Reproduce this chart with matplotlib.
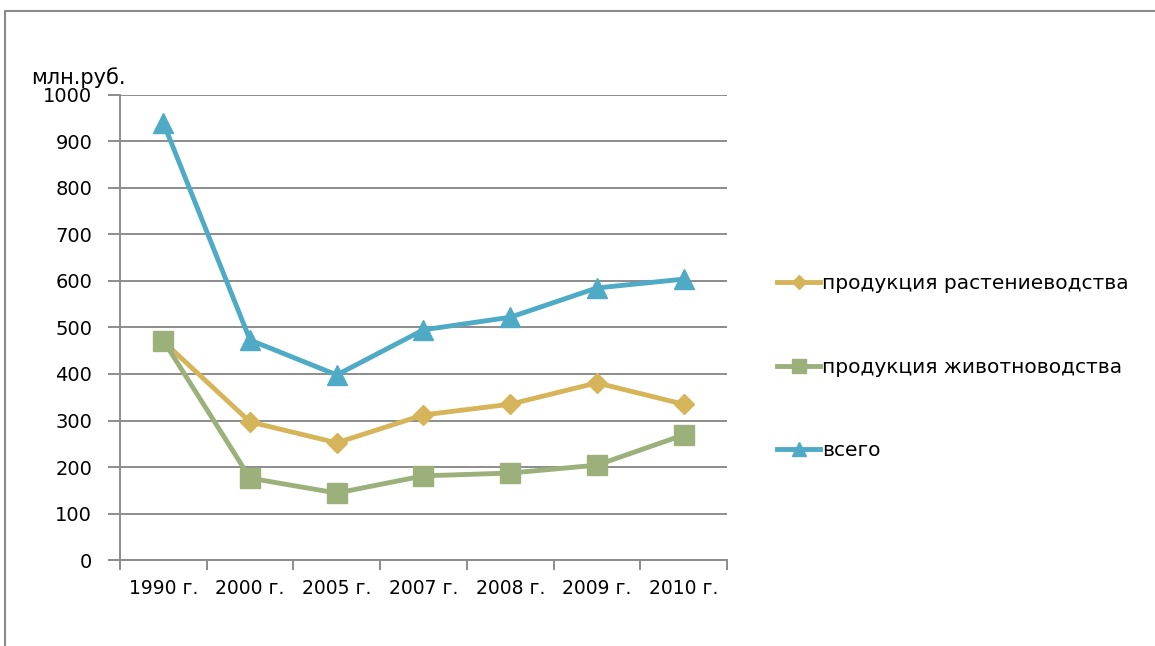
import matplotlib.pyplot as plt
from matplotlib.lines import Line2D

plt.rcParams['font.family'] = ['DejaVu Sans']

years = ['1990 г.', '2000 г.', '2005 г.', '2007 г.', '2008 г.', '2009 г.', '2010 г.']
crops = [470, 297, 252, 312, 335, 381, 335]       # продукция растениеводства
livestock = [472, 176, 144, 181, 187, 204, 269]   # продукция животноводства
total = [940, 473, 398, 495, 522, 585, 604]       # всего

fig = plt.figure(figsize=(11.55, 6.46), dpi=100)
ax = fig.add_axes([0.1039, 0.1331, 0.5255, 0.7199])

# thin frame along the top and left of the chart
frame_x = 5 / 1155
frame_y = 1 - 11 / 646
fig.lines.append(Line2D([frame_x, frame_x, 1.0], [0.0, frame_y, frame_y],
                        transform=fig.transFigure, color='#8a8a8a', lw=1.5))

x = list(range(len(years)))
ax.plot(x, crops, color='#D6B55A', lw=3.5, marker='D', ms=10,
        label='продукция растениеводства', zorder=3)
ax.plot(x, livestock, color='#9BB07A', lw=3.5, marker='s', ms=14,
        label='продукция животноводства', zorder=3)
ax.plot(x, total, color='#4FAAC5', lw=3.5, marker='^', ms=14,
        label='всего', zorder=4)

ax.set_xlim(-0.5, 6.5)
ax.set_ylim(0, 1000)
ax.set_yticks(range(0, 1001, 100))
ax.yaxis.grid(True, color='#8c8c8c', lw=1.4)
ax.set_axisbelow(True)

ax.set_xticks(x)
ax.set_xticklabels(years)
ax.set_xticks([i - 0.5 for i in range(len(years) + 1)], minor=True)
ax.tick_params(axis='x', which='major', length=0, pad=14, labelsize=13.5)
ax.tick_params(axis='x', which='minor', length=7, color='#8c8c8c', width=1.4)
ax.tick_params(axis='y', length=9, color='#8c8c8c', width=1.4, labelsize=14, pad=11)

for side in ['top', 'right']:
    ax.spines[side].set_visible(False)
for side in ['left', 'bottom']:
    ax.spines[side].set_color('#8c8c8c')
    ax.spines[side].set_linewidth(1.4)

fig.text(31 / 1155, 1 - 78 / 646, 'млн.руб.', fontsize=15, va='center', ha='left')

leg = ax.legend(loc='upper left', bbox_to_anchor=(1.07, 0.632), frameon=False,
                fontsize=14.5, labelspacing=3.2, handlelength=2.1,
                handletextpad=0.1, borderaxespad=0, markerscale=0.75)

fig.savefig('out.png', dpi=100, facecolor='white')
